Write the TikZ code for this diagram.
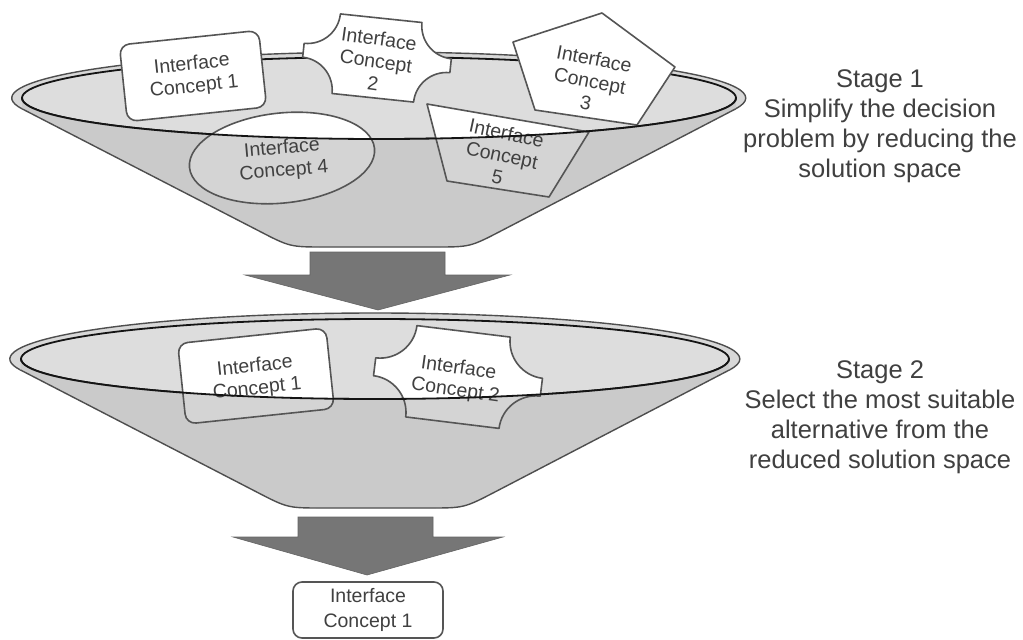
\documentclass[tikz,border=0pt]{standalone}
\usepackage{fontspec}
\setmainfont{Liberation Sans}
\usetikzlibrary{shapes.geometric}
\definecolor{bandgray}{HTML}{D8D8D8}
\definecolor{innergray}{HTML}{DDDDDD}
\definecolor{conegray}{HTML}{CACACA}
\definecolor{rimouter}{HTML}{4E4E4E}
\definecolor{rimblack}{HTML}{141414}
\definecolor{shapeline}{HTML}{555555}
\definecolor{arrowgray}{HTML}{767676}
\definecolor{txtgray}{HTML}{404040}
\newcommand\notchApath{(-41,40) -- (41,40) arc[start angle=180,end angle=270,radius=33pt] -- (74,-7) arc[start angle=90,end angle=180,radius=33pt] -- (-41,-40) arc[start angle=0,end angle=90,radius=33pt] -- (-74,7) arc[start angle=270,end angle=360,radius=33pt] -- cycle}
\newcommand\notchBpath{(-47,46) -- (47,46) arc[start angle=180,end angle=270,radius=37pt] -- (84,-9) arc[start angle=90,end angle=180,radius=37pt] -- (-47,-46) arc[start angle=0,end angle=90,radius=37pt] -- (-84,9) arc[start angle=270,end angle=360,radius=37pt] -- cycle}
\newcommand\quadEpath{(427,104) -- (589,132) -- (549,197) -- (447,181) -- cycle}
\newcommand\coneAline{(22.1,108.85) -- (258.9,230.9) .. controls (290,247) .. (325,247) -- (435,247) .. controls (470,247) .. (501.1,230.9) -- (735.8,108.8)}
\newcommand\coneBline{(20.3,369.9) -- (256.5,491.9) .. controls (287.6,508) .. (322.6,508) -- (429,508) .. controls (464,508) .. (495.1,491.9) -- (729.7,369.8)}
\begin{document}
\begin{tikzpicture}[x=1pt,y=-1pt,
  conceptfont/.style={font=\fontsize{19.5}{22.5}\selectfont, text=txtgray, align=center},
  stagefont/.style={font=\fontsize{25.5}{30}\selectfont, text=txtgray, align=center},
  shapeedge/.style={draw=shapeline, line width=1.6pt, line join=round},
  rimout/.style={draw=rimouter, line width=1.4pt},
  rimin/.style={draw=rimblack, line width=1.8pt},
  coneedge/.style={draw=rimouter, line width=1.4pt, line join=round},
  frontveil/.style={fill=conegray, fill opacity=0.8},
  blockarrow/.style={fill=arrowgray, draw=arrowgray!85!black, line width=0.6pt, line join=miter}]
\useasboundingbox (0,0) rectangle (1023,640);
\fill[white] (0,0) rectangle (1023,640);

% ================= Stage 1 funnel =================
\coordinate (cA) at (379,98);
\fill[bandgray] (cA) ellipse [x radius=367pt, y radius=46pt];
\fill[conegray] \coneAline -- cycle;
\fill[innergray] (cA) ellipse [x radius=357pt, y radius=41pt];
\draw[rimout] (22.1,108.85) arc[start angle=193.6, end angle=-13.6, x radius=367pt, y radius=46pt];
\draw[rimin] (cA) ellipse [x radius=357pt, y radius=41pt];

% back concepts
\node[shapeedge, fill=white, rounded corners=10pt, rotate=6, minimum width=140pt, minimum height=77pt, conceptfont] (s1a) at (193,76) {Interface\\Concept 1};
\begin{scope}[shift={(377,58)}, rotate=-6, y=1pt]
  \draw[shapeedge, fill=white] \notchApath;
\end{scope}
\node[conceptfont, rotate=-8] (t1b) at (376,61) {Interface\\Concept\\2};
\draw[shapeedge, fill=white] (602,13) -- (675,67) -- (637,125) -- (535,110) -- (513,42) -- cycle;
\node[conceptfont, rotate=-11] (t1c) at (590,81) {Interface\\Concept\\3};

% front concepts (fill)
\fill[white, rotate around={6:(282,158)}] (282,158) ellipse [x radius=93pt, y radius=45pt];
\fill[white] \quadEpath;

% front veil of the cone
\fill[frontveil] (22,98) arc[start angle=180, end angle=360, x radius=357pt, y radius=41pt] -- (735.8,108.8) -- (501.1,230.9) .. controls (470,247) .. (435,247) -- (325,247) .. controls (290,247) .. (258.9,230.9) -- (22.1,108.85) -- cycle;

\draw[shapeedge, rotate around={6:(282,158)}] (282,158) ellipse [x radius=93pt, y radius=45pt];
\draw[shapeedge] \quadEpath;
\node[conceptfont, rotate=5] (t1d) at (283,160) {Interface\\Concept 4};
\node[conceptfont, rotate=-12] (t1e) at (502,155) {Interface\\Concept\\5};

\draw[rimin] (22,98) arc[start angle=180, end angle=360, x radius=357pt, y radius=41pt];
\draw[coneedge] \coneAline;

% ================= Arrow 1 =================
\draw[blockarrow] (310,252) -- (445,252) -- (445,275) -- (510,275) -- (378,310) -- (245,275) -- (310,275) -- cycle;

% ================= Stage 2 funnel =================
\coordinate (cB) at (375,359);
\fill[bandgray] (cB) ellipse [x radius=365pt, y radius=46pt];
\fill[conegray] \coneBline -- cycle;
\fill[innergray] (cB) ellipse [x radius=354pt, y radius=40pt];
\draw[rimout] (20.3,369.9) arc[start angle=193.7, end angle=-13.7, x radius=365pt, y radius=46pt];
\draw[rimin] (cB) ellipse [x radius=354pt, y radius=40pt];

\begin{scope}[shift={(256,376)}, rotate=6]
  \fill[white, rounded corners=10pt] (-74.5,-40.5) rectangle (74.5,40.5);
\end{scope}
\begin{scope}[shift={(458,377)}, rotate=-7, y=1pt]
  \fill[white] \notchBpath;
\end{scope}

\fill[frontveil] (21,359) arc[start angle=180, end angle=360, x radius=354pt, y radius=40pt] -- (729.7,369.8) -- (495.1,491.9) .. controls (464,508) .. (429,508) -- (322.6,508) .. controls (287.6,508) .. (256.5,491.9) -- (20.3,369.9) -- cycle;

\begin{scope}[shift={(256,376)}, rotate=6]
  \draw[shapeedge, rounded corners=10pt] (-74.5,-40.5) rectangle (74.5,40.5);
\end{scope}
\begin{scope}[shift={(458,377)}, rotate=-7, y=1pt]
  \draw[shapeedge] \notchBpath;
\end{scope}
\node[conceptfont, rotate=6] (t2a) at (256,378) {Interface\\Concept 1};
\node[conceptfont, rotate=-8] (t2b) at (457,380) {Interface\\Concept 2};

\draw[rimin] (21,359) arc[start angle=180, end angle=360, x radius=354pt, y radius=40pt];
\draw[coneedge] \coneBline;

% ================= Arrow 2 =================
\draw[blockarrow] (298,517) -- (433,517) -- (433,537) -- (503,537) -- (367,575) -- (233,537) -- (298,537) -- cycle;

% ================= Result =================
\node[shapeedge, fill=white, rounded corners=9pt, minimum width=150pt, minimum height=56pt, font=\fontsize{19.5}{25}\selectfont, text=txtgray, align=center] (final) at (368,610) {Interface\\Concept 1};

% ================= Stage texts =================
\node[stagefont] (stageone) at (880,126) {Stage 1\\Simplify the decision\\problem by reducing the\\solution space};
\node[stagefont] (stagetwo) at (880,417) {Stage 2\\Select the most suitable\\alternative from the\\reduced solution space};
\end{tikzpicture}
\end{document}
